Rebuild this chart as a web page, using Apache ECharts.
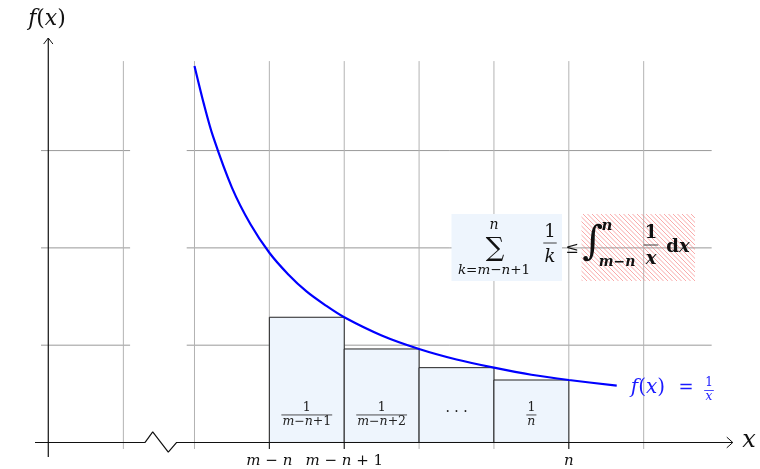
<!DOCTYPE html>
<html>
<head>
<meta charset="utf-8">
<script src="https://cdn.jsdelivr.net/npm/echarts/dist/echarts.min.js"></script>
<style>
  html, body { margin: 0; padding: 0; background: #fff; }
  #chart { width: 760px; height: 469px; }
</style>
</head>
<body>
<div id="chart"></div>
<script>
// one data unit = one grid cell
const vGridX = [1.05, 2, 3, 4, 5, 6, 7, 8];
const hGridY = [1, 2, 3];
const rectLeft = [3, 4, 5, 6];
const rectHeight = [1.287, 0.961, 0.769, 0.642];
const rectNum = ['1', '1', '', '1'];
const rectDen = ['m−n+1', 'm−n+2', '', 'n'];
const curveX = [2, 2.125, 2.25, 2.5, 2.75, 3, 3.25, 3.5, 3.75, 4, 4.5, 5, 5.5, 6, 6.5, 7, 7.64];
const curveY = [3.87, 3.48, 3.14, 2.62, 2.24, 1.95, 1.73, 1.55, 1.41, 1.287, 1.10, 0.961, 0.853, 0.769, 0.696, 0.642, 0.584];
const tickX = [3, 4, 7];
const tickLabels = ['m − n', 'm − n + 1', 'n'];
// x axis with the zigzag break
const axisPathX = [-0.13, 1.34, 1.442, 1.65, 1.762, 9.19];
const axisPathY = [0, 0, 0.108, -0.10, 0, 0];

const SERIF = '"DejaVu Serif", serif';
const chart = echarts.init(document.getElementById('chart'));

const segs = (name, data, color, width, z) => ({
  name, type: 'custom', z, silent: true,
  data,
  renderItem: (params, api) => {
    const a = api.coord([api.value(0), api.value(1)]);
    const b = api.coord([api.value(2), api.value(3)]);
    return {
      type: 'line',
      shape: { x1: a[0], y1: a[1], x2: b[0], y2: b[1] },
      style: { stroke: color, lineWidth: width }
    };
  }
});

const poly = (name, pts, color, width, z) => ({
  name, type: 'line', z, silent: true, symbol: 'none', smooth: false,
  data: pts,
  lineStyle: { color, width }
});

const hSegs = [];
hGridY.forEach(y => { hSegs.push([-0.05, y, 1.14, y]); hSegs.push([1.896, y, 8.908, y]); });
const vSegs = vGridX.map(x => [x, -0.067, x, 3.92]);
const tickSegs = tickX.map(x => [x, 0, x, -0.067]);

chart.setOption({
  animation: false,
  grid: { left: 29.79, top: 4.65, width: 718.7, height: 462.15 },
  xAxis: { type: 'value', min: -0.2, max: 9.4, show: false },
  yAxis: { type: 'value', min: -0.25, max: 4.5, show: false },
  series: [
    segs('hgrid', hSegs, '#999999', 1, 1),
    segs('vgrid', vSegs, '#b3b3b3', 1, 1),
    {
      name: 'rects', type: 'custom', z: 3, silent: true,
      data: rectLeft.map((x, i) => [x, rectHeight[i]]),
      renderItem: (params, api) => {
        const x0 = api.value(0), h = api.value(1);
        const p0 = api.coord([x0, 0]), p1 = api.coord([x0 + 1, h]);
        return {
          type: 'rect',
          shape: { x: p0[0], y: p1[1], width: p1[0] - p0[0], height: p0[1] - p1[1] },
          style: { fill: '#eef5fd', stroke: '#222', lineWidth: 1 }
        };
      }
    },
    segs('ticks', tickSegs, '#111', 1, 4),
    poly('xaxis', axisPathX.map((x, i) => [x, axisPathY[i]]), '#111', 1.2, 5),
    poly('yaxis', [[0.047, -0.149], [0.047, 4.157]], '#111', 1.2, 5),
    poly('xarrow', [[9.11, 0.055], [9.19, 0], [9.11, -0.055]], '#111', 1, 5),
    poly('yarrow', [[-0.015, 4.095], [0.047, 4.157], [0.109, 4.095]], '#111', 1, 5),
    {
      name: 'f', type: 'line', z: 6, silent: true, symbol: 'none',
      smooth: 0.3,
      data: curveX.map((x, i) => [x, curveY[i]]),
      lineStyle: { color: '#0000ff', width: 2.2 }
    }
  ]
});

// ---- text annotations ----
const mctx = document.createElement('canvas').getContext('2d');
function math(parts, size, color, weight) {
  weight = weight || 'normal';
  const rich = {
    i: { fontFamily: SERIF, fontStyle: 'italic', fontSize: size, fontWeight: weight, fill: color },
    r: { fontFamily: SERIF, fontStyle: 'normal', fontSize: size, fontWeight: weight, fill: color }
  };
  let w = 0, text = '';
  parts.forEach(([s, k]) => {
    mctx.font = (k === 'i' ? 'italic ' : '') + weight + ' ' + size + 'px ' + SERIF;
    w += mctx.measureText(s).width;
    text += '{' + k + '|' + s + '}';
  });
  return { text, rich, width: w };
}
// letters italic, the rest upright
function split(str) {
  const out = [];
  str.replace(/([a-zA-Z]+)|([^a-zA-Z]+)/g, (m, a, b) => { out.push([m, a ? 'i' : 'r']); return m; });
  return out;
}
function label(x, y, str, size, color, weight, parts) {
  const m = math(parts || split(str), size, color, weight);
  return { type: 'text', x, y, z: 100, style: { text: m.text, rich: m.rich, align: 'center', verticalAlign: 'middle' } };
}
function frac(cx, numY, barY, denY, num, den, size, color, weight) {
  const n = math(split(num), size, color, weight), d = math(split(den), size, color, weight);
  const w = Math.max(n.width, d.width) + 2;
  return [
    label(cx, numY, num, size, color, weight),
    { type: 'line', z: 100, shape: { x1: cx - w / 2, y1: barY, x2: cx + w / 2, y2: barY }, style: { stroke: color, lineWidth: 0.8 } },
    label(cx, denY, den, size, color, weight)
  ];
}
const px = (x, y) => chart.convertToPixel({ gridIndex: 0 }, [x, y]);
const fx = [['f', 'i'], ['(', 'r'], ['x', 'i'], [')', 'r']];

const els = [];
els.push(label(47, 19, 'f(x)', 22, '#111', 'normal', fx));
els.push(label(749, 441, 'x', 24, '#111'));
tickX.forEach((x, i) => {
  const p = px(x, 0);
  els.push(label(p[0], p[1] + 19, tickLabels[i], 15, '#111'));
});
rectLeft.forEach((x, i) => {
  const p = px(x + 0.5, 0.283);
  if (rectNum[i]) els.push(...frac(p[0], p[1] - 7, p[1], p[1] + 7, rectNum[i], rectDen[i], 12.5, '#222'));
  else els.push(label(p[0], p[1] - 3, '· · ·', 14, '#222'));
});
// curve label
els.push(label(648, 388, 'f(x)', 20, '#1a1aff', 'normal', fx));
els.push(label(686, 388, '=', 18, '#1a1aff', 'normal', [['=', 'r']]));
els.push(...frac(709, 383, 390.5, 397, '1', 'x', 12, '#1a1aff'));

// formula boxes
const hatch = document.createElement('canvas');
hatch.width = 9; hatch.height = 9;
const hc = hatch.getContext('2d');
hc.strokeStyle = 'rgba(245,120,120,0.7)';
hc.lineWidth = 0.9;
[-9, -4.5, 0, 4.5, 9].forEach(x0 => { hc.beginPath(); hc.moveTo(x0, 0); hc.lineTo(x0 + 9, 9); hc.stroke(); });

els.push({ type: 'rect', z: 50, shape: { x: 451.5, y: 214, width: 110.5, height: 67 }, style: { fill: '#eef5fd' } });
els.push({ type: 'rect', z: 50, shape: { x: 581.5, y: 214, width: 113.5, height: 67 }, style: { fill: { image: hatch, repeat: 'repeat' } } });
els.push(label(495, 249, '∑', 26, '#111', 'normal', [['∑', 'r']]));
els.push(label(494, 225, 'n', 14, '#111'));
els.push(label(494, 270, 'k=m−n+1', 13.5, '#111'));
els.push(...frac(550, 232, 243, 257, '1', 'k', 18, '#111'));
els.push(label(572, 249, '≤', 16, '#111', 'normal', [['≤', 'r']]));
els.push(label(593, 244, '∫', 40, '#111', 'normal', [['∫', 'r']]));
els.push(label(607, 226, 'n', 15, '#111', 'bold'));
els.push(label(617, 262, 'm−n', 14, '#111', 'bold'));
els.push(...frac(651, 233, 245, 259, '1', 'x', 18, '#111', 'bold'));
els.push(label(678, 247, 'dx', 18, '#111', 'bold', [['d', 'r'], ['x', 'i']]));

chart.setOption({ graphic: { elements: els } });
</script>
</body>
</html>
